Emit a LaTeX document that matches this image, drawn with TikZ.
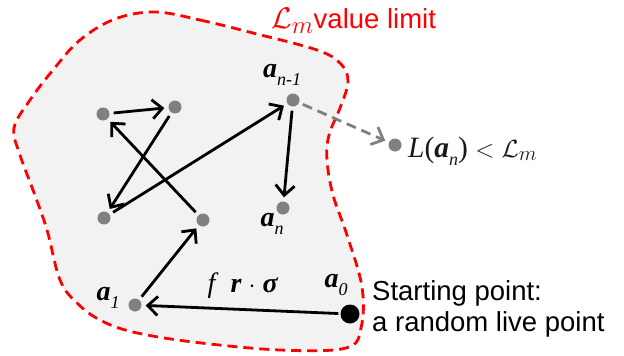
\documentclass[tikz,border=0pt]{standalone}
\usepackage{amsmath}
\usepackage{fontspec}
\setmainfont{Liberation Serif}
\newfontfamily\arialfont{Liberation Sans}
\usetikzlibrary{arrows.meta}
\definecolor{blobfill}{HTML}{F2F2F2}
\definecolor{dotgray}{HTML}{808080}
\newcommand{\bvec}[1]{\textbf{\textit{#1}}}
\newcommand{\sbi}[1]{\raisebox{-0.28em}{\fontsize{18}{20}\selectfont\textit{#1}}}
\tikzset{
  pt/.style={circle,fill=dotgray,inner sep=0pt,minimum size=13pt},
  startpt/.style={circle,fill=black,inner sep=0pt,minimum size=19pt},
  arr/.style={line width=2.8pt,-{Straight Barb[length=10pt,width=19pt,line width=2.8pt]},shorten >=4pt,shorten <=4pt},
  garr/.style={arr,dotgray,dash pattern=on 10pt off 6pt},
  lbl/.style={inner sep=0pt,font=\fontsize{28}{32}\selectfont},
  sans/.style={inner sep=0pt,font=\arialfont\fontsize{27.5}{33}\selectfont,align=left}
}
\begin{document}
\begin{tikzpicture}[x=1pt,y=-1pt]
\useasboundingbox (0,0) rectangle (624,356);
\draw[red,fill=blobfill,line width=2.8pt,dash pattern=on 10pt off 6pt]
  plot[smooth cycle,tension=0.6] coordinates {
  (155,12) (200,20) (253,33) (317,50) (341,64) (348,82) (340,108) (329,135) (327,160)
  (333,195) (347,235) (362,287) (361,328) (346,348) (280,350) (193,342) (133,332)
  (100,320) (77,303) (60,280) (47,230) (33,190) (20,155) (14,128) (30,100) (53,70) (80,40) (115,19)};
% points
\node[pt] (p1) at (103,114) {};
\node[pt] (p2) at (175,107) {};
\node[pt] (p3) at (104,218) {};
\node[pt] (p4) at (203,220) {};
\node[pt] (an1) at (293,100) {};
\node[pt] (an) at (283,208) {};
\node[pt] (a1) at (135,305) {};
\node[pt] (L) at (395,145) {};
\node[startpt] (a0) at (350,314) {};
% arrows
\draw[arr] (p1) -- (p2);
\draw[arr] (p2) -- (p3);
\draw[arr] (p4) -- (p1);
\draw[arr] (p3) -- (an1);
\draw[arr] (an1) -- (an);
\draw[arr] (a1) -- (p4);
\draw[arr,shorten <=2pt] (a0) -- (a1);
\draw[garr] (an1) -- (L);
% labels
\node[lbl] (lan1) at (282,75) {\bvec{a}\sbi{n-1}};
\node[lbl] (lan) at (272,224) {\bvec{a}\sbi{n}};
\node[lbl] (la1) at (108,298) {\bvec{a}\sbi{1}};
\node[lbl] (la0) at (336,285) {\bvec{a}\sbi{0}};
\node[lbl] (lf) at (243,286) {\textit{f}\hspace{12pt}\bvec{r} $\cdot$ \bvec{σ}};
\node[lbl,anchor=west,text=black!90,font=\fontsize{29.5}{34}\selectfont] (lL) at (408,151) {\textit{L}(\bvec{a}\sbi{n}) $<$ $\mathcal{L}_m$};
\node[sans,anchor=west,text=red] (lim) at (271,21) {\scalebox{1.2}{$\mathcal{L}_m$}value limit};
\node[sans,anchor=north west] (start) at (372,280) {Starting point:\\[-2pt]a random live point};
\end{tikzpicture}
\end{document}
